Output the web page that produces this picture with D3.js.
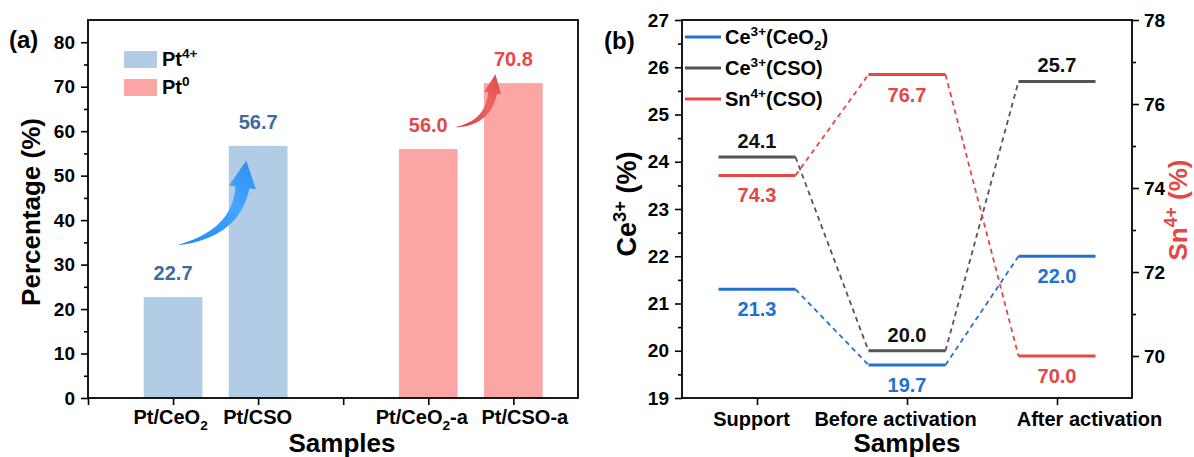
<!DOCTYPE html>
<html>
<head>
<meta charset="utf-8">
<script src="https://cdn.jsdelivr.net/npm/d3@7"></script>
<style>
  body { margin: 0; background: #fff; }
  svg text { font-family: "Liberation Sans", Arial, sans-serif; font-weight: bold; }
</style>
</head>
<body>
<div id="chart"></div>
<script>
// ---- panel (a) data ----
const samplesA = ["Pt/CeO_{2}", "Pt/CSO", "", "Pt/CeO_{2}-a", "Pt/CSO-a"];
const seriesA = ["Pt^{4+}", "Pt^{0}"];
const barSample = ["Pt/CeO_{2}", "Pt/CSO", "Pt/CeO_{2}-a", "Pt/CSO-a"];
const barSeries = [0, 0, 1, 1];
const barValue = [22.7, 56.7, 56.0, 70.8];
const yTicksA = [0, 10, 20, 30, 40, 50, 60, 70, 80];

// ---- panel (b) data ----
const stages = ["Support", "Before activation", "After activation"];
const seriesB = ["Ce^{3+}(CeO_{2})", "Ce^{3+}(CSO)", "Sn^{4+}(CSO)"];
const ceCeO2 = [21.3, 19.7, 22.0];
const ceCSO = [24.1, 20.0, 25.7];
const snCSO = [74.3, 76.7, 70.0];
const yTicksL = [19, 20, 21, 22, 23, 24, 25, 26, 27];
const yTicksR = [70, 72, 74, 76, 78];

const W = 1194, H = 457;
const svg = d3.select("#chart").append("svg").attr("width", W).attr("height", H);

// text with _{sub} and ^{sup} parts
function rich(sel, str, size) {
  const parts = str.split(/([_^]\{[^}]*\})/).filter(s => s.length);
  let back = 0;
  parts.forEach(p => {
    if (p[0] === "_" || p[0] === "^") {
      const up = p[0] === "^";
      const d = up ? -size * 0.38 : size * 0.28;
      sel.append("tspan").attr("font-size", size * 0.68).attr("dy", d + back).text(p.slice(2, -1));
      back = -d;
    } else {
      sel.append("tspan").attr("dy", back).text(p);
      back = 0;
    }
  });
}

function styleAxis(g, size) {
  g.select(".domain").remove();
  g.selectAll(".tick line").attr("stroke", "#000").attr("stroke-width", 1.6);
  g.selectAll(".tick text").attr("font-size", size).attr("fill", "#000");
}

function frame(x0, x1, y0, y1) {
  svg.append("rect").attr("x", x0).attr("y", y0).attr("width", x1 - x0).attr("height", y1 - y0)
    .attr("fill", "none").attr("stroke", "#000").attr("stroke-width", 1.8);
}

// tapered curved arrow
function arrow(tail, ctrl, tip, shaftW, headW, headL, fill) {
  const dx = tip[0] - ctrl[0], dy = tip[1] - ctrl[1];
  const len = Math.hypot(dx, dy);
  const ux = dx / len, uy = dy / len;
  const end = [tip[0] - ux * headL, tip[1] - uy * headL];
  const left = [], right = [];
  for (let i = 0; i <= 30; i++) {
    const t = i / 30, m = 1 - t;
    const px = m * m * tail[0] + 2 * m * t * ctrl[0] + t * t * end[0];
    const py = m * m * tail[1] + 2 * m * t * ctrl[1] + t * t * end[1];
    let tx = 2 * m * (ctrl[0] - tail[0]) + 2 * t * (end[0] - ctrl[0]);
    let ty = 2 * m * (ctrl[1] - tail[1]) + 2 * t * (end[1] - ctrl[1]);
    const tl = Math.hypot(tx, ty); tx /= tl; ty /= tl;
    const w = shaftW / 2 * Math.pow(t, 0.8);
    left.push([px - ty * w, py + tx * w]);
    right.push([px + ty * w, py - tx * w]);
  }
  const hb1 = [end[0] - uy * headW / 2, end[1] + ux * headW / 2];
  const hb2 = [end[0] + uy * headW / 2, end[1] - ux * headW / 2];
  const pts = left.concat([hb1, tip, hb2], right.reverse());
  svg.append("path").attr("d", d3.line()(pts) + "Z").attr("fill", fill);
}

// ================= panel (a) =================
const xA = d3.scaleLinear().domain([0, 5.76]).range([88, 578]);
const yA = d3.scaleLinear().domain([0, 85]).range([398, 20]);
const colA = ["#b2cce5", "#fba5a5"];
const labA = ["#3d6b9e", "#e8474a"];
const bwA = 0.69;

const defs = svg.append("defs");
const gb = defs.append("linearGradient").attr("id", "gBlue").attr("x1", 0).attr("y1", 1).attr("x2", 1).attr("y2", 0);
gb.append("stop").attr("offset", 0).attr("stop-color", "#1e86f0");
gb.append("stop").attr("offset", 0.6).attr("stop-color", "#45a6ff");
gb.append("stop").attr("offset", 1).attr("stop-color", "#2a8cf5");
const gr = defs.append("linearGradient").attr("id", "gRed").attr("x1", 0).attr("y1", 1).attr("x2", 1).attr("y2", 0);
gr.append("stop").attr("offset", 0).attr("stop-color", "#d83c3c");
gr.append("stop").attr("offset", 0.6).attr("stop-color", "#ee6464");
gr.append("stop").attr("offset", 1).attr("stop-color", "#d94848");

svg.selectAll("rect.barA").data(barValue).enter().append("rect")
  .attr("class", "barA")
  .attr("x", (d, i) => xA(samplesA.indexOf(barSample[i]) + 1 - bwA / 2))
  .attr("width", xA(bwA) - xA(0))
  .attr("y", d => yA(d))
  .attr("height", d => yA(0) - yA(d))
  .attr("fill", (d, i) => colA[barSeries[i]]);

svg.selectAll("text.valA").data(barValue).enter().append("text")
  .attr("class", "valA")
  .attr("x", (d, i) => xA(samplesA.indexOf(barSample[i]) + 1))
  .attr("y", d => yA(d) - 17)
  .attr("text-anchor", "middle").attr("font-size", 20)
  .attr("fill", (d, i) => labA[barSeries[i]])
  .text(d => d.toFixed(1));

// arrows
arrow([xA(1.06), yA(34.4)], [xA(1.74), yA(37.0)], [xA(1.86), yA(53.4)], 14, 27, 27, "url(#gBlue)");
arrow([xA(4.32), yA(60.9)], [xA(4.70), yA(61.8)], [xA(4.79), yA(72.8)], 9, 17, 19, "url(#gRed)");

frame(88, 578, 20, 398);

const axYA = svg.append("g").attr("transform", "translate(88,0)")
  .call(d3.axisLeft(yA).tickValues(yTicksA).tickSize(7).tickPadding(6));
styleAxis(axYA, 19);
svg.append("g").attr("transform", "translate(88,0)")
  .call(d3.axisLeft(yA).tickValues(d3.range(5, 85, 10)).tickSize(4).tickFormat(""))
  .call(g => styleAxis(g, 19));

// tick label nudges as laid out in the figure
const shiftA = [-3, -1, 0, -7, 11];
const axXA = svg.append("g").attr("transform", "translate(0,398)")
  .call(d3.axisBottom(xA).tickValues(d3.range(0, 6)).tickSize(7).tickPadding(5).tickFormat(""));
styleAxis(axXA, 20);
axXA.selectAll(".tick").filter(d => d > 0).append("text")
  .attr("x", d => shiftA[d - 1])
  .attr("y", 26).attr("text-anchor", "middle").attr("font-size", 20).attr("fill", "#000")
  .each(function (d) { rich(d3.select(this), samplesA[d - 1], 20); });

// legend (a)
seriesA.forEach((s, i) => {
  svg.append("rect").attr("x", 124).attr("y", 51 + i * 28).attr("width", 33).attr("height", 17).attr("fill", colA[i]);
  const t = svg.append("text").attr("x", 162).attr("y", 66 + i * 28).attr("font-size", 20).attr("fill", "#000");
  rich(t, s, 20);
});

svg.append("text").attr("x", 9).attr("y", 48).attr("font-size", 24).text("(a)");
svg.append("text").attr("transform", "translate(40,212) rotate(-90)").attr("text-anchor", "middle")
  .attr("font-size", 26).text("Percentage (%)");
svg.append("text").attr("x", 342).attr("y", 452).attr("text-anchor", "middle").attr("font-size", 26).text("Samples");

// ================= panel (b) =================
const xB = d3.scalePoint().domain(stages).range([682, 1132]).padding(0.5);
const yL = d3.scaleLinear().domain([19, 27]).range([398, 20]);
const yR = d3.scaleLinear().domain([69, 78]).range([398, 20]);
const half = 38.5;

const linesB = [
  { vals: ceCeO2, y: yL, color: "#2470d2", text: "#2470d2", above: false },
  { vals: ceCSO, y: yL, color: "#555555", text: "#111111", above: true },
  { vals: snCSO, y: yR, color: "#e54646", text: "#e54646", above: false }
];

// dashed connectors
linesB.forEach(s => {
  for (let i = 0; i < stages.length - 1; i++) {
    svg.append("line")
      .attr("x1", xB(stages[i]) + half).attr("y1", s.y(s.vals[i]))
      .attr("x2", xB(stages[i + 1]) - half).attr("y2", s.y(s.vals[i + 1]))
      .attr("stroke", s.color).attr("stroke-width", 1.8).attr("stroke-dasharray", "5,4");
  }
});
// level lines and labels
linesB.forEach(s => {
  svg.append("g").selectAll("line").data(s.vals).enter().append("line")
    .attr("x1", (d, i) => xB(stages[i]) - half).attr("x2", (d, i) => xB(stages[i]) + half)
    .attr("y1", d => s.y(d)).attr("y2", d => s.y(d))
    .attr("stroke", s.color).attr("stroke-width", 3);
  svg.append("g").selectAll("text").data(s.vals).enter().append("text")
    .attr("x", (d, i) => xB(stages[i]))
    .attr("y", d => s.y(d) + (s.above ? -9 : 27))
    .attr("text-anchor", "middle").attr("font-size", 20).attr("fill", s.text)
    .text(d => d.toFixed(1));
});

frame(682, 1132, 20, 398);

const axL = svg.append("g").attr("transform", "translate(682,0)")
  .call(d3.axisLeft(yL).tickValues(yTicksL).tickSize(7).tickPadding(6));
styleAxis(axL, 19);
svg.append("g").attr("transform", "translate(682,0)")
  .call(d3.axisLeft(yL).tickValues(d3.range(19.5, 27, 1)).tickSize(4).tickFormat(""))
  .call(g => styleAxis(g, 19));

const axR = svg.append("g").attr("transform", "translate(1132,0)")
  .call(d3.axisRight(yR).tickValues(yTicksR).tickSize(7).tickPadding(5));
styleAxis(axR, 19);
svg.append("g").attr("transform", "translate(1132,0)")
  .call(d3.axisRight(yR).tickValues([71, 73, 75, 77]).tickSize(4).tickFormat(""))
  .call(g => styleAxis(g, 19));

const shiftB = [-6, -12, 32];
const axXB = svg.append("g").attr("transform", "translate(0,398)")
  .call(d3.axisBottom(xB).tickSize(7).tickPadding(4));
styleAxis(axXB, 20);
axXB.selectAll(".tick text").attr("dy", "0.85em").attr("x", (d, i) => shiftB[i]);

// legend (b)
seriesB.forEach((s, i) => {
  const y = 37 + i * 31;
  svg.append("line").attr("x1", 685).attr("x2", 721).attr("y1", y).attr("y2", y)
    .attr("stroke", linesB[i].color).attr("stroke-width", 3);
  const t = svg.append("text").attr("x", 725).attr("y", y + 7).attr("font-size", 20).attr("fill", "#000");
  rich(t, s, 20);
});

svg.append("text").attr("x", 604).attr("y", 49).attr("font-size", 24).text("(b)");
const tl = svg.append("text").attr("transform", "translate(636,204) rotate(-90)").attr("text-anchor", "middle")
  .attr("font-size", 27).attr("fill", "#000");
rich(tl, "Ce^{3+} (%)", 27);
const tr = svg.append("text").attr("transform", "translate(1187,210) rotate(-90)").attr("text-anchor", "middle")
  .attr("font-size", 26).attr("fill", "#e54646");
rich(tr, "Sn^{4+} (%)", 26);
svg.append("text").attr("x", 907).attr("y", 452).attr("text-anchor", "middle").attr("font-size", 26).text("Samples");
</script>
</body>
</html>
